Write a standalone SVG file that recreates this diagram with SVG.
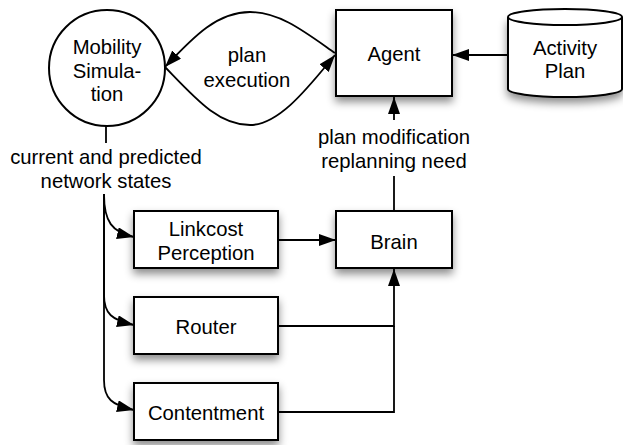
<svg xmlns="http://www.w3.org/2000/svg" width="623" height="445" viewBox="0 0 623 445">
<style>
text{font-family:"Liberation Sans",Arial,sans-serif;font-size:20.3px;fill:#000;text-anchor:middle}
.n{fill:#fff;stroke:#000;stroke-width:2}
.c{fill:none;stroke:#000;stroke-width:1.8}
</style>
<defs>
<filter id="sh" x="-30%" y="-30%" width="160%" height="170%">
<feDropShadow dx="0" dy="5" stdDeviation="4" flood-color="#000" flood-opacity="0.45"/>
</filter>
<marker id="ar" viewBox="0 0 17 12" refX="17" refY="6" markerWidth="17" markerHeight="12" markerUnits="userSpaceOnUse" orient="auto">
<path d="M0,0 L17,6 L0,12 Z" fill="#000"/>
</marker>
</defs>
<rect width="623" height="445" fill="#fff"/>
<g id="mobility">
<circle class="n" cx="107" cy="68" r="58"/>
<text x="107" y="54">Mobility</text>
<text x="107" y="78">Simula-</text>
<text x="107" y="101">tion</text>
</g>
<g id="agent">
<rect class="n" x="336" y="10" width="116" height="86" filter="url(#sh)"/>
<text x="394" y="61">Agent</text>
</g>
<g id="activity-plan">
<path class="n" d="M508,17 L508,89 A57,8 0 0 0 622,89 L622,17" filter="url(#sh)"/>
<ellipse class="n" cx="565" cy="17" rx="57" ry="8"/>
<text x="565" y="55">Activity</text>
<text x="565" y="78">Plan</text>
</g>
<g id="brain">
<rect class="n" x="336" y="211" width="116" height="57" filter="url(#sh)"/>
<text x="394" y="249">Brain</text>
</g>
<g id="linkcost">
<rect class="n" x="134" y="211" width="144" height="57" filter="url(#sh)"/>
<text x="206" y="236">Linkcost</text>
<text x="206" y="260">Perception</text>
</g>
<g id="router">
<rect class="n" x="134" y="297" width="144" height="57" filter="url(#sh)"/>
<text x="206" y="334">Router</text>
</g>
<g id="contentment">
<rect class="n" x="134" y="383" width="144" height="57" filter="url(#sh)"/>
<text x="206" y="420">Contentment</text>
</g>
<g id="connectors">
<path class="c" d="M335,53 C305,32 280,12 250,12 C218,12 195,35 165,67" marker-end="url(#ar)"/>
<path class="c" d="M165,67 C195,98 218,125 250,125 C280,125 310,85 335,55" marker-end="url(#ar)"/>
<text x="247" y="62">plan</text>
<text x="247" y="87">execution</text>
<line class="c" x1="508" y1="55" x2="452" y2="55" marker-end="url(#ar)"/>
<line class="c" x1="394" y1="120" x2="394" y2="97" marker-end="url(#ar)"/>
<text x="394" y="144">plan modification</text>
<text x="394" y="168">replanning need</text>
<line class="c" x1="394" y1="176" x2="394" y2="211"/>
<line class="c" x1="278" y1="240" x2="336" y2="240" marker-end="url(#ar)"/>
<path class="c" d="M278,326 L394,326 L394,269" marker-end="url(#ar)"/>
<path class="c" d="M278,412 L394,412 L394,326"/>
<line class="c" x1="106" y1="126" x2="106" y2="143"/>
<text x="106" y="164">current and predicted</text>
<text x="106" y="188">network states</text>
<path class="c" d="M104,194 C104,222 112,232 134,237" marker-end="url(#ar)"/>
<path class="c" d="M104,194 L104,295 C104,314 112,320 134,325" marker-end="url(#ar)"/>
<path class="c" d="M104,194 L104,380 C104,399 112,405 134,410" marker-end="url(#ar)"/>
</g>
</svg>
